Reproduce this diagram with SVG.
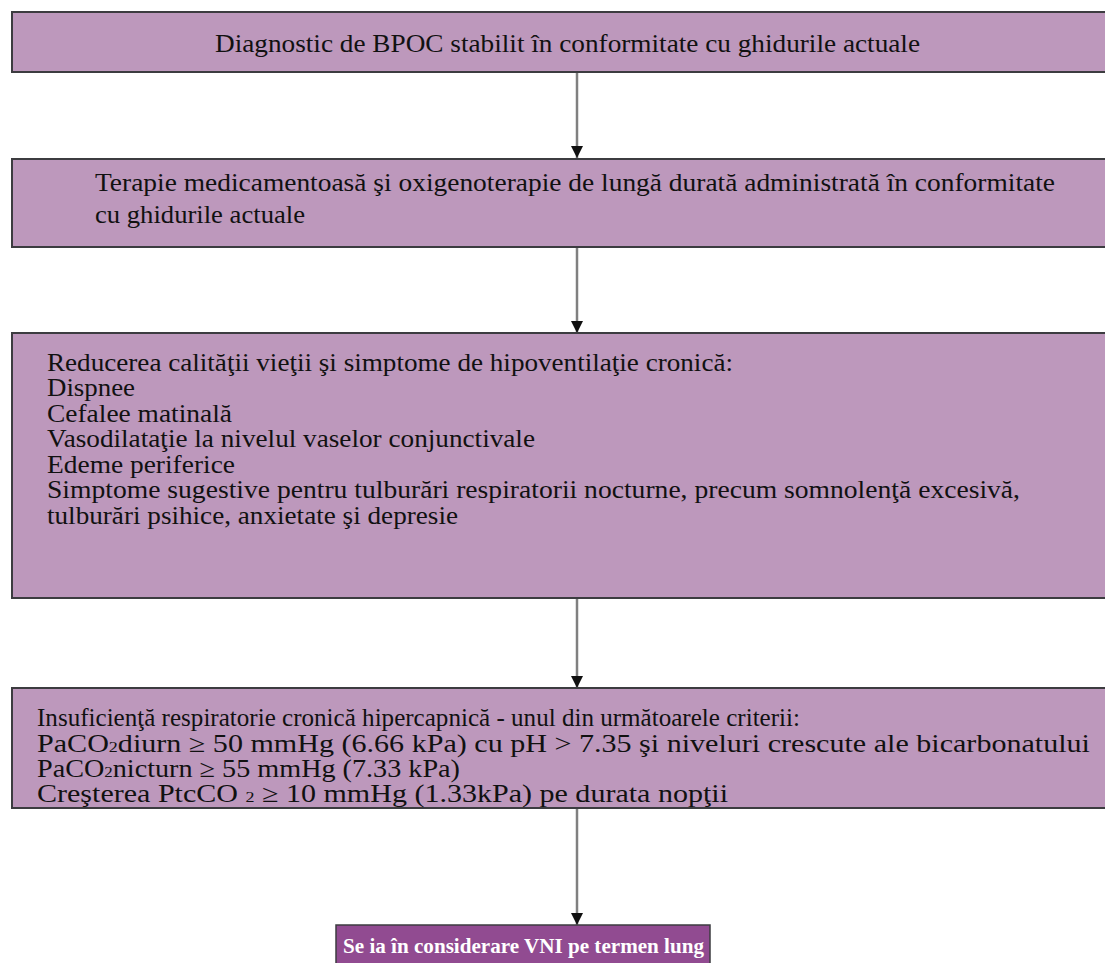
<svg xmlns="http://www.w3.org/2000/svg" width="1105" height="963" viewBox="0 0 1105 963">
<defs>
<style>
.box{fill:#bd98bc;stroke:#3c3c40;stroke-width:2}
.final{fill:#914b91;stroke:#3c3c40;stroke-width:1.5}
.t{font-family:"Liberation Serif","Times New Roman",serif;font-size:25px;fill:#111}
.tb{font-family:"Liberation Serif","Times New Roman",serif;font-size:22px;font-weight:bold;fill:#fff}
.sub{font-size:15px}
.conn{stroke:#808080;stroke-width:2.5;fill:none}
</style>
<marker id="ah" markerWidth="14" markerHeight="12" refX="12" refY="6" orient="auto" markerUnits="userSpaceOnUse">
<path d="M0,0 L12,6 L0,12 Z" fill="#111"/>
</marker>
</defs>
<rect width="1105" height="963" fill="#fff"/>
<g id="connectors">
<line class="conn" x1="577" y1="72" x2="577" y2="158" marker-end="url(#ah)"/>
<line class="conn" x1="577" y1="247" x2="577" y2="333" marker-end="url(#ah)"/>
<line class="conn" x1="577" y1="598" x2="577" y2="688" marker-end="url(#ah)"/>
<line class="conn" x1="577" y1="808" x2="577" y2="925" marker-end="url(#ah)"/>
</g>
<g id="node1">
<rect class="box" x="12" y="12" width="1110" height="60"/>
<text class="t" x="215" y="52" textLength="705" lengthAdjust="spacingAndGlyphs">Diagnostic de BPOC stabilit în conformitate cu ghidurile actuale</text>
</g>
<g id="node2">
<rect class="box" x="12" y="159" width="1110" height="88"/>
<text class="t" x="95" y="191" textLength="960" lengthAdjust="spacingAndGlyphs">Terapie medicamentoasă şi oxigenoterapie de lungă durată administrată în conformitate</text>
<text class="t" x="95" y="223" textLength="210" lengthAdjust="spacingAndGlyphs">cu ghidurile actuale</text>
</g>
<g id="node3">
<rect class="box" x="12" y="333" width="1110" height="265"/>
<text class="t" x="47" y="371" textLength="686" lengthAdjust="spacingAndGlyphs">Reducerea calităţii vieţii şi simptome de hipoventilaţie cronică:</text>
<text class="t" x="47" y="396" textLength="88" lengthAdjust="spacingAndGlyphs">Dispnee</text>
<text class="t" x="47" y="422" textLength="185" lengthAdjust="spacingAndGlyphs">Cefalee matinală</text>
<text class="t" x="47" y="447" textLength="488" lengthAdjust="spacingAndGlyphs">Vasodilataţie la nivelul vaselor conjunctivale</text>
<text class="t" x="47" y="473" textLength="188" lengthAdjust="spacingAndGlyphs">Edeme periferice</text>
<text class="t" x="47" y="498" textLength="973" lengthAdjust="spacingAndGlyphs">Simptome sugestive pentru  tulburări respiratorii nocturne, precum somnolenţă excesivă,</text>
<text class="t" x="47" y="524" textLength="411" lengthAdjust="spacingAndGlyphs">tulburări psihice, anxietate şi depresie</text>
</g>
<g id="node4">
<rect class="box" x="12" y="688" width="1110" height="120"/>
<text class="t" x="37" y="726" textLength="763" lengthAdjust="spacingAndGlyphs">Insuficienţă respiratorie cronică hipercapnică - unul din următoarele criterii:</text>
<text class="t" x="37" y="752" textLength="1053" lengthAdjust="spacingAndGlyphs">PaCO<tspan class="sub">2</tspan>diurn ≥  50 mmHg (6.66 kPa) cu pH &gt; 7.35 şi niveluri crescute ale bicarbonatului</text>
<text class="t" x="37" y="777" textLength="423" lengthAdjust="spacingAndGlyphs">PaCO<tspan class="sub">2</tspan>nicturn ≥ 55 mmHg (7.33 kPa)</text>
<text class="t" x="37" y="802" textLength="691" lengthAdjust="spacingAndGlyphs">Creşterea PtcCO <tspan class="sub">2</tspan> ≥ 10 mmHg (1.33kPa) pe durata nopţii</text>
</g>
<g id="node5">
<rect class="final" x="336" y="925" width="374" height="45"/>
<text class="tb" x="343" y="953" textLength="361" lengthAdjust="spacingAndGlyphs">Se ia în considerare VNI pe termen lung</text>
</g>
</svg>
